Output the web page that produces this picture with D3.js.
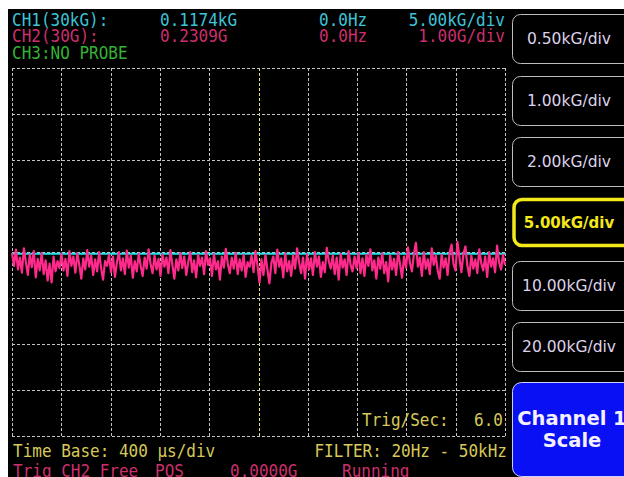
<!DOCTYPE html>
<html><head><meta charset="utf-8">
<script src="https://cdn.jsdelivr.net/npm/d3@7"></script>
<style>
html,body{margin:0;padding:0;background:#fff;}
svg{display:block;}
</style></head>
<body>
<script>
// ---- data ----
const timeBaseUs = 400;          // µs per division
const hDivs = 10, vDivs = 8;
const ch1ScaleKG = 5.0;          // kG per div
const ch2ScaleG = 1.0;           // G per div
const ch1LevelKG = -0.2;         // CH1 flat trace level (kG)
const ch2Trace = [
-0.02,-0.30,0.05,-0.38,-0.12,-0.45,0.08,-0.22,-0.50,-0.05,-0.33,0.02,-0.55,-0.15,-0.40,-0.02,-0.48,-0.18,-0.62,-0.25,-0.66,-0.10,-0.42,-0.20,-0.35,
-0.04,-0.40,-0.15,-0.52,0.02,-0.30,-0.10,-0.45,-0.03,-0.28,-0.58,-0.14,-0.38,0.04,-0.32,-0.08,-0.50,-0.16,-0.42,0.00,-0.35,-0.60,-0.20,-0.30,-0.06,
-0.44,-0.10,-0.54,-0.22,0.00,-0.40,-0.14,-0.48,0.03,-0.34,-0.08,-0.56,-0.20,-0.42,-0.04,-0.30,-0.52,-0.12,-0.36,0.06,-0.26,-0.46,-0.08,-0.38,-0.15,
-0.52,-0.05,-0.32,-0.12,-0.46,0.04,-0.28,-0.58,-0.16,-0.40,-0.02,-0.35,-0.10,-0.50,-0.22,0.00,-0.44,-0.18,-0.55,-0.06,-0.30,-0.12,-0.48,0.02,-0.28,
-0.14,-0.52,-0.04,-0.38,-0.20,-0.60,-0.10,-0.34,0.07,-0.26,-0.46,-0.12,-0.36,-0.02,-0.48,-0.16,-0.40,-0.06,-0.54,-0.22,-0.32,-0.08,-0.44,0.02,-0.30,
-0.66,-0.16,-0.50,-0.06,-0.38,-0.68,-0.24,-0.10,-0.46,0.05,-0.32,-0.14,-0.55,-0.03,-0.42,-0.20,-0.52,-0.08,-0.36,0.08,-0.22,-0.46,-0.12,-0.58,-0.05,
-0.38,-0.14,-0.50,0.00,-0.32,-0.10,-0.54,-0.22,-0.44,0.09,-0.20,-0.36,-0.08,-0.48,-0.12,-0.60,-0.04,-0.34,-0.16,-0.50,0.02,-0.28,-0.42,-0.10,-0.35,
-0.02,-0.46,-0.14,-0.52,-0.06,-0.30,0.06,-0.40,-0.18,-0.58,-0.12,-0.36,-0.03,-0.46,-0.22,-0.64,-0.08,-0.38,-0.15,-0.50,0.00,-0.26,-0.56,-0.10,-0.34,
0.10,-0.24,-0.42,-0.04,0.20,-0.32,-0.12,-0.52,0.00,-0.36,-0.16,-0.48,0.08,-0.28,-0.08,-0.40,-0.58,-0.06,-0.34,-0.14,-0.50,-0.02,0.16,-0.26,-0.40,
0.22,-0.12,-0.44,-0.04,0.12,-0.30,-0.52,-0.08,-0.36,-0.16,-0.46,0.06,-0.24,-0.40,-0.10,-0.54,0.00,-0.32,-0.14,-0.44,0.14,-0.22,-0.38,-0.06,-0.28
];
const scaleButtons = ["0.50kG/div","1.00kG/div","2.00kG/div","5.00kG/div","10.00kG/div","20.00kG/div"];
const selectedButton = "5.00kG/div";
const header = [
  {row:0, color:"#3ec3d8", cells:[["CH1(30kG):","start",12],["0.1174kG","start",160],["0.0Hz","start",319],["5.00kG/div","end",505]]},
  {row:1, color:"#cc2f6c", cells:[["CH2(30G):","start",12],["0.2309G","start",160],["0.0Hz","start",319],["1.00G/div","end",505]]},
  {row:2, color:"#35b235", cells:[["CH3:NO PROBE","start",12]]}
];
const footer = [
  {y:457, color:"#d6c95a", cells:[["Time Base: 400 µs/div","start",13],["FILTER: 20Hz - 50kHz","end",507]]},
  {y:477, color:"#cc2f6c", cells:[["Trig CH2 Free","start",13],["POS","start",155],["0.0000G","start",230],["Running","start",342]]}
];
const trigRate = ["Trig/Sec:", "6.0"];

// ---- layout ----
const W = 624, H = 477;
const plot = {x0:12, x1:505, y0:68, y1:436};
const svg = d3.select("body").append("svg").attr("width", W).attr("height", H);
svg.append("rect").attr("x",8).attr("y",9).attr("width",W-8).attr("height",H-9).attr("fill","#000");

const x = d3.scaleLinear().domain([0, hDivs*timeBaseUs]).range([plot.x0, plot.x1]);
const y2 = d3.scaleLinear().domain([-vDivs/2*ch2ScaleG, vDivs/2*ch2ScaleG]).range([plot.y1, plot.y0]);
const y1 = d3.scaleLinear().domain([-vDivs/2*ch1ScaleKG, vDivs/2*ch1ScaleKG]).range([plot.y1, plot.y0]);

// grid
const xt = d3.range(0, hDivs+1).map(i => i*timeBaseUs);
const yt = d3.range(-vDivs/2, vDivs/2+1).map(i => i*ch2ScaleG);
const grid = svg.append("g").attr("stroke-dasharray","3,2").attr("stroke-width",1).attr("fill","none");
grid.selectAll("line.v").data(xt).join("line")
  .attr("x1", d => Math.round(x(d))+0.5).attr("x2", d => Math.round(x(d))+0.5)
  .attr("y1", plot.y0).attr("y2", plot.y1)
  .attr("stroke", d => d === hDivs/2*timeBaseUs ? "#e8e070" : "#c4c4c4");
grid.selectAll("line.h").data(yt).join("line")
  .attr("y1", d => Math.round(y2(d))+0.5).attr("y2", d => Math.round(y2(d))+0.5)
  .attr("x1", plot.x0).attr("x2", plot.x1)
  .attr("stroke", "#c4c4c4");

// CH1 trace (flat)
svg.append("line")
  .attr("x1", x(0)).attr("x2", x(hDivs*timeBaseUs))
  .attr("y1", y1(ch1LevelKG)).attr("y2", y1(ch1LevelKG))
  .attr("stroke","#22e0e8").attr("stroke-width",2);

// CH2 trace
const n = ch2Trace.length;
const line = d3.line().x((d,i) => x(i*hDivs*timeBaseUs/(n-1))).y(d => y2(d));
svg.append("path").datum(ch2Trace).attr("d", line)
  .attr("fill","none").attr("stroke","#ff2a8c").attr("stroke-width",2.2).attr("stroke-linejoin","round");

// text helper
const mono = "'DejaVu Sans Mono', monospace";
function monoText(str, anchor, tx, ty, color) {
  svg.append("text").text(str)
    .attr("transform", `translate(${tx},${ty}) scale(1,1.08)`)
    .attr("text-anchor", anchor)
    .attr("font-family", mono).attr("font-size", 16)
    .attr("fill", color);
}
const headerY = [26, 42, 59];
header.forEach(r => r.cells.forEach(c => monoText(c[0], c[1], c[2], headerY[r.row], r.color)));
footer.forEach(r => r.cells.forEach(c => monoText(c[0], c[1], c[2], r.y, r.color)));
monoText(trigRate[0], "start", 362, 426, "#d6c95a");
monoText(trigRate[1], "end", 503, 426, "#d6c95a");

// buttons
const btnTop = [14, 76, 137, 198, 261, 322];
const btnH = 49;
scaleButtons.forEach((b,i) => {
  const sel = b === selectedButton;
  svg.append("rect").attr("x", sel ? 514 : 512.5).attr("y", btnTop[i] + (sel?1.5:0.5))
    .attr("width", 130).attr("height", sel ? btnH-3 : btnH)
    .attr("rx", 8).attr("fill","#000")
    .attr("stroke", sel ? "#f2e81a" : "#bdbdbd").attr("stroke-width", sel ? 3.5 : 1);
  svg.append("text").text(b)
    .attr("x", 569).attr("y", btnTop[i] + 30)
    .attr("text-anchor","middle")
    .attr("font-family","'DejaVu Sans', sans-serif")
    .attr("font-size", sel ? 15 : 15.5)
    .attr("font-weight", sel ? "bold" : "normal")
    .attr("fill", sel ? "#f2e81a" : "#ddd2ea");
});
svg.append("rect").attr("x",512.5).attr("y",382.5).attr("width",130).attr("height",94)
  .attr("rx",9).attr("fill","#0a10f4").attr("stroke","#d0d0ff").attr("stroke-width",1);
[["Channel 1",425],["Scale",447]].forEach(t => {
  svg.append("text").text(t[0]).attr("x",572).attr("y",t[1])
    .attr("text-anchor","middle").attr("font-family","'DejaVu Sans', sans-serif")
    .attr("font-weight","bold").attr("font-size",19.5).attr("fill","#f4f0ff");
});
</script>
</body></html>
